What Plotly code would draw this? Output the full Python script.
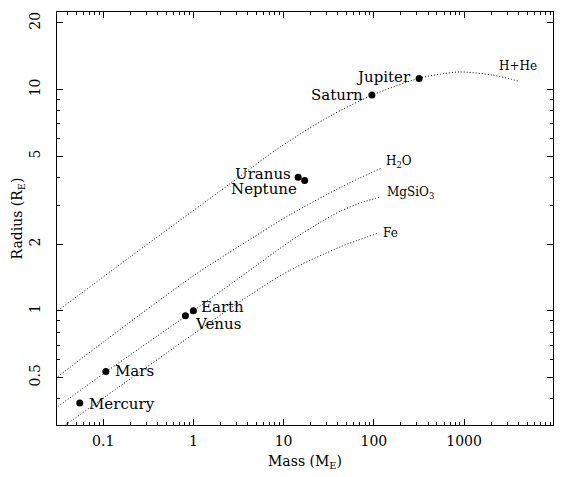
import numpy as np
import plotly.graph_objects as go

# Planets (mass in Earth masses, radius in Earth radii)
planet_names = ["Mercury", "Venus", "Earth", "Mars", "Jupiter", "Saturn", "Uranus", "Neptune"]
planet_mass = [0.055, 0.815, 1.0, 0.107, 317.8, 95.2, 14.5, 17.1]
planet_radius = [0.383, 0.949, 1.0, 0.532, 11.21, 9.45, 4.01, 3.88]

# Composition curves
hhe_mass = [0.0314, 0.200, 2.57, 9.18, 32.9, 96.8, 324, 543, 906, 2118, 4000]
hhe_radius = [1.00, 1.754, 3.76, 5.50, 7.59, 9.44, 11.27, 11.72, 12.0, 11.59, 10.91]

h2o_mass = [0.0314, 0.106, 1.0, 3.31, 11.9, 42.5, 118]
h2o_radius = [0.504, 0.735, 1.439, 1.972, 2.723, 3.606, 4.395]

mgsio3_mass = [0.0314, 0.109, 1.0, 3.31, 11.9, 25.5, 42.5, 70.8, 118]
mgsio3_radius = [0.369, 0.532, 1.0, 1.419, 2.065, 2.512, 2.818, 3.069, 3.27]

fe_mass = [0.0383, 0.143, 1.0, 3.94, 11.9, 42.5, 108]
fe_radius = [0.305, 0.447, 0.785, 1.156, 1.528, 1.945, 2.234]

x_tickvals = [0.1, 1, 10, 100, 1000]
x_ticktext = ["0.1", "1", "10", "100", "1000"]
y_tickvals = [0.5, 1, 2, 5, 10, 20]
y_ticktext = ["0.5", "1", "2", "5", "10", "20"]

FONT = "DejaVu Serif"

fig = go.Figure()

curves = [
    (hhe_mass, hhe_radius, "H+He"),
    (h2o_mass, h2o_radius, "H<sub>2</sub>O"),
    (mgsio3_mass, mgsio3_radius, "MgSiO<sub>3</sub>"),
    (fe_mass, fe_radius, "Fe"),
]
for m, r, name in curves:
    fig.add_trace(go.Scatter(x=m, y=r, mode="lines",
                             line=dict(color="black", width=1, dash="1px,2px", shape="spline", smoothing=0.8),
                             showlegend=False, hoverinfo="skip"))

fig.add_trace(go.Scatter(x=planet_mass, y=planet_radius, mode="markers",
                         marker=dict(color="black", size=7), showlegend=False))

# curve labels
curve_label_style = {
    "H+He": dict(xanchor="center", xshift=0, yshift=15),
    "H<sub>2</sub>O": dict(xanchor="left", xshift=4, yshift=6),
    "MgSiO<sub>3</sub>": dict(xanchor="left", xshift=5, yshift=4),
    "Fe": dict(xanchor="left", xshift=4, yshift=1),
}
for m, r, name in curves:
    st = curve_label_style[name]
    fig.add_annotation(x=np.log10(m[-1]), y=np.log10(r[-1]), text=name, showarrow=False,
                       font=dict(family=FONT, size=12, color="black"), yanchor="middle", **st)

planet_label_style = {
    "Mercury": dict(xanchor="left", xshift=7, yshift=-1),
    "Venus": dict(xanchor="left", xshift=8, yshift=-8),
    "Earth": dict(xanchor="left", xshift=6, yshift=4),
    "Mars": dict(xanchor="left", xshift=7, yshift=0),
    "Jupiter": dict(xanchor="right", xshift=-6, yshift=1),
    "Saturn": dict(xanchor="right", xshift=-7, yshift=0),
    "Uranus": dict(xanchor="right", xshift=-5, yshift=3),
    "Neptune": dict(xanchor="right", xshift=-6, yshift=-9),
}
for n, m, r in zip(planet_names, planet_mass, planet_radius):
    st = planet_label_style[n]
    fig.add_annotation(x=np.log10(m), y=np.log10(r), text=n, showarrow=False,
                       font=dict(family=FONT, size=15, color="black"), yanchor="middle", **st)

x_minor = [v * d for d in [0.01, 0.1, 1, 10, 100, 1000] for v in range(2, 10)]
x_minor = [v for v in x_minor if 0.03 < v < 9700]
y_minor = [v * d for d in [0.1, 1, 10] for v in [3, 4, 6, 7, 8, 9]]
y_minor = [v for v in y_minor if 0.3 < v < 22]

axis_common = dict(showline=True, linecolor="black", linewidth=1, mirror="allticks",
                   ticks="inside", ticklen=6, tickwidth=1, tickcolor="black",
                   showgrid=False, zeroline=False, automargin=False,
                   tickfont=dict(family=FONT, size=14, color="black"))

fig.update_xaxes(type="log", range=[-1.512, 3.986], tickvals=x_tickvals, ticktext=x_ticktext,
                 ticklabelstandoff=3,
                 minor=dict(tickvals=x_minor, ticks="inside", ticklen=3, tickcolor="black", showgrid=False),
                 title=dict(text="Mass (M<sub>E</sub>)", font=dict(family=FONT, size=14, color="black"), standoff=8),
                 **axis_common)
fig.update_yaxes(type="log", range=[-0.516, 1.350], tickvals=y_tickvals, ticktext=y_ticktext, tickangle=-90,
                 ticklabelstandoff=10,
                 minor=dict(tickvals=y_minor, ticks="inside", ticklen=3, tickcolor="black", showgrid=False),
                 title=dict(text="Radius (R<sub>E</sub>)", font=dict(family=FONT, size=14, color="black"), standoff=1),
                 **axis_common)

# page body has an 8px margin: size the figure so the plot area lands where the reference has it
fig.update_layout(width=557, height=469, margin=dict(l=49, r=12, t=4, b=52),
                  plot_bgcolor="white", paper_bgcolor="white", showlegend=False)

fig.write_html("out.html")
